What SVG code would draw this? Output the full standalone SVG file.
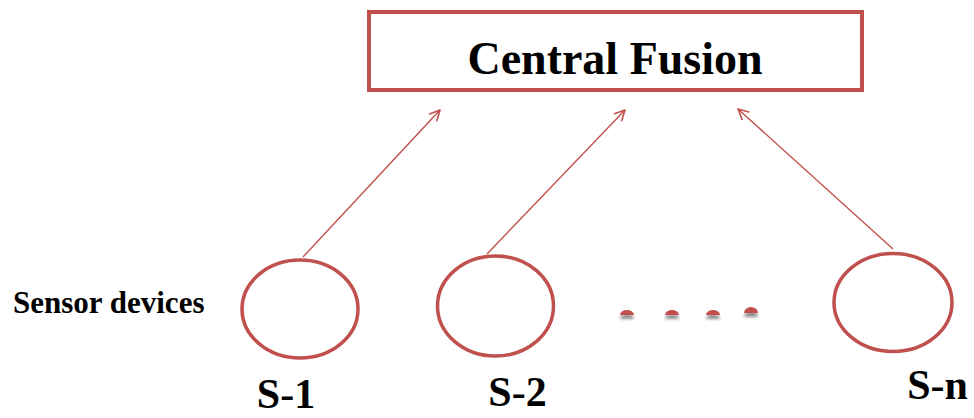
<svg xmlns="http://www.w3.org/2000/svg" width="974" height="418" viewBox="0 0 974 418">
<defs>
<marker id="arr" viewBox="0 0 12 12" refX="11" refY="6" markerWidth="12" markerHeight="12" markerUnits="userSpaceOnUse" orient="auto">
<path d="M1,1 L11,6 L1,11" fill="none" stroke="#C0504D" stroke-width="1.6" stroke-linecap="round" stroke-linejoin="round"/>
</marker>
<filter id="sh" x="-50%" y="-50%" width="200%" height="250%">
<feGaussianBlur in="SourceAlpha" stdDeviation="1.5"/>
<feOffset dy="4" result="b"/>
<feComponentTransfer><feFuncA type="linear" slope="0.45"/></feComponentTransfer>
<feMerge><feMergeNode/><feMergeNode in="SourceGraphic"/></feMerge>
</filter>
</defs>
<style>
.box{fill:#fff;stroke:#C0504D;stroke-width:4}
.node{fill:none;stroke:#C0504D;stroke-width:3.5}
.edge{fill:none;stroke:#C0504D;stroke-width:1.4;marker-end:url(#arr)}
.lbl{font-family:"Liberation Serif","Times New Roman",serif;font-weight:bold;fill:#000}
.dot{fill:#C0504D}
</style>
<rect width="974" height="418" fill="#fff"/>
<g id="central-fusion">
<rect class="box" x="369" y="12" width="493" height="78"/>
<text class="lbl" x="615" y="74" font-size="46" text-anchor="middle">Central Fusion</text>
</g>
<g id="connectors">
<line class="edge" x1="303" y1="257" x2="440" y2="110"/>
<line class="edge" x1="487" y1="254" x2="625" y2="110"/>
<line class="edge" x1="893" y1="249" x2="738" y2="109"/>
</g>
<g id="sensor-label">
<text class="lbl" x="13" y="313" font-size="31">Sensor devices</text>
</g>
<g id="s1">
<ellipse class="node" cx="300" cy="309" rx="58" ry="49"/>
<text class="lbl" x="286" y="408" font-size="42" text-anchor="middle">S-1</text>
</g>
<g id="s2">
<ellipse class="node" cx="495.5" cy="306" rx="58" ry="50"/>
<text class="lbl" x="517.5" y="406" font-size="42" text-anchor="middle">S-2</text>
</g>
<g id="dots" filter="url(#sh)">
<path class="dot" d="M620,315 a7,5 0 0 1 14,0 z"/>
<path class="dot" d="M665,315 a7,5 0 0 1 14,0 z"/>
<path class="dot" d="M706,315 a7,5 0 0 1 14,0 z"/>
<path class="dot" d="M744,313 a7,6 0 0 1 14,0 z"/>
</g>
<g id="sn">
<ellipse class="node" cx="893" cy="302.5" rx="59" ry="49"/>
<text class="lbl" x="937.5" y="399" font-size="42" text-anchor="middle">S-n</text>
</g>
</svg>
